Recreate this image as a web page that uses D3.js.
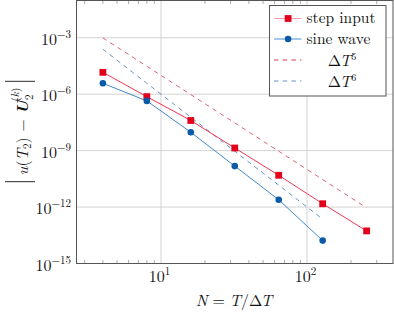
<!DOCTYPE html>
<html>
<head>
<meta charset="utf-8">
<script src="https://cdn.jsdelivr.net/npm/d3@7"></script>
</head>
<body style="margin:0;background:#fff">
<svg id="chart" width="394" height="315" font-family="Latin Modern Roman, serif" fill="#111"></svg>
<script>
// values
var steps = [4, 8, 16, 32, 64, 128, 256];
var stepErr = [1.45e-5, 7.4e-7, 4.0e-8, 1.38e-9, 4.9e-11, 1.5e-12, 5.4e-14];
var sineN = [4, 8, 16, 32, 64, 128];
var sineErr = [3.8e-6, 4.4e-7, 9.5e-9, 1.5e-10, 2.45e-12, 1.65e-14];
var ref5 = [9.8e-4, 3.05e-5, 9.5e-7, 2.98e-8, 9.3e-10, 2.9e-11, 9.1e-13];
var ref6 = [2.44e-4, 3.8e-6, 6.0e-8, 9.3e-10, 1.46e-11, 2.27e-13];
var yTicks = [1e-15, 1e-12, 1e-9, 1e-6, 1e-3];
var yTickExp = ["\u221215", "\u221212", "\u22129", "\u22126", "\u22123"];
var xTicks = [10, 100];
var xTickExp = ["1", "2"];
var legendNames = ["step input", "sine wave", "\u0394T", "\u0394T"];

var red = "#e2001a", blue = "#0a5aa8";
var redLine = "#ee2040", blueLine = "#2f7cc4";

var svg = d3.select("#chart");
var L = 76.5, R = 393, T = 0.5, B = 263.5;

var x = d3.scaleLog().domain([Math.pow(10, 0.4214), Math.pow(10, 2.5888)]).range([L, R]);
var y = d3.scaleLog().domain([1e-15, Math.pow(10, -1.02)]).range([B, T]);

// grid
svg.append("g").selectAll("line").data(xTicks).join("line")
  .attr("x1", d => x(d)).attr("x2", d => x(d)).attr("y1", T).attr("y2", B)
  .attr("stroke", "#c8c8c8").attr("stroke-width", 0.8);
svg.append("g").selectAll("line").data(yTicks).join("line")
  .attr("x1", L).attr("x2", R).attr("y1", d => y(d)).attr("y2", d => y(d))
  .attr("stroke", "#c8c8c8").attr("stroke-width", 0.8);

// minor x ticks
var minor = [];
for (var dec = 1; dec <= 100; dec *= 10)
  for (var m = 2; m <= 9; m++) {
    var v = m * dec;
    if (v > x.domain()[0] && v < x.domain()[1]) minor.push(v);
  }
var mt = svg.append("g");
minor.forEach(function(v) {
  mt.append("line").attr("x1", x(v)).attr("x2", x(v)).attr("y1", B).attr("y2", B - 3.5)
    .attr("stroke", "#888").attr("stroke-width", 0.7);
  mt.append("line").attr("x1", x(v)).attr("x2", x(v)).attr("y1", T).attr("y2", T + 3.5)
    .attr("stroke", "#888").attr("stroke-width", 0.7);
});

// reference lines
var line = d3.line().x(d => x(d[0])).y(d => y(d[1]));
var dash = "4.5,4.2";
svg.append("path").datum(d3.zip(steps, ref5)).attr("d", line)
  .attr("fill", "none").attr("stroke", "#d83a52").attr("stroke-width", 0.8).attr("stroke-dasharray", dash);
svg.append("path").datum(d3.zip(sineN, ref6)).attr("d", line)
  .attr("fill", "none").attr("stroke", "#3a78b8").attr("stroke-width", 0.8).attr("stroke-dasharray", dash);

// data series
svg.append("path").datum(d3.zip(steps, stepErr)).attr("d", line)
  .attr("fill", "none").attr("stroke", redLine).attr("stroke-width", 0.9);
svg.append("path").datum(d3.zip(sineN, sineErr)).attr("d", line)
  .attr("fill", "none").attr("stroke", blueLine).attr("stroke-width", 0.9);

svg.append("g").selectAll("rect").data(d3.zip(steps, stepErr)).join("rect")
  .attr("x", d => x(d[0]) - 3.4).attr("y", d => y(d[1]) - 3.4)
  .attr("width", 6.8).attr("height", 6.8).attr("fill", red);
svg.append("g").selectAll("circle").data(d3.zip(sineN, sineErr)).join("circle")
  .attr("cx", d => x(d[0])).attr("cy", d => y(d[1])).attr("r", 3.3).attr("fill", blue);

// frame
svg.append("rect").attr("x", L).attr("y", T).attr("width", R - L).attr("height", B - T)
  .attr("fill", "none").attr("stroke", "#555").attr("stroke-width", 1);

// y tick labels
var yl = svg.append("g");
yTicks.forEach(function(v, i) {
  var t = yl.append("text").attr("x", 71).attr("y", y(v) + 7).attr("text-anchor", "end")
    .attr("font-size", 16);
  t.append("tspan").text("10");
  t.append("tspan").attr("dy", -7).attr("font-size", 11).text(yTickExp[i]);
});
// x tick labels
xTicks.forEach(function(v, i) {
  var t = svg.append("text").attr("x", x(v) - 1.5).attr("y", 282).attr("text-anchor", "middle")
    .attr("font-size", 16);
  t.append("tspan").text("10");
  t.append("tspan").attr("dy", -7).attr("font-size", 11).text(xTickExp[i]);
});

// x label
var xl = svg.append("text").attr("x", 234).attr("y", 306).attr("text-anchor", "middle")
  .attr("font-size", 16);
xl.append("tspan").attr("font-style", "italic").text("N");
xl.append("tspan").attr("dx", 5).text("=");
xl.append("tspan").attr("dx", 4.5).attr("font-style", "italic").text("T");
xl.append("tspan").text("/\u0394");
xl.append("tspan").attr("dx", -1.5).attr("font-style", "italic").text("T");

// y label
var yg = svg.append("g").attr("transform", "translate(28,131.5) rotate(-90)");
var ylab = yg.append("text").attr("text-anchor", "middle").attr("font-size", 16);
ylab.append("tspan").attr("font-style", "italic").text("u");
ylab.append("tspan").text("(");
ylab.append("tspan").attr("font-style", "italic").text("T");
ylab.append("tspan").attr("dy", 3).attr("font-size", 11).text("2");
ylab.append("tspan").attr("dy", -3).text(") \u2212 ");
ylab.append("tspan").attr("font-style", "italic").attr("font-weight", "bold").text("U");
ylab.append("tspan").attr("dy", 5).attr("font-size", 11).text("2");
ylab.append("tspan").attr("dx", -7).attr("dy", -14).attr("font-size", 11).text("(");
ylab.append("tspan").attr("font-size", 11).attr("font-style", "italic").text("k");
ylab.append("tspan").attr("font-size", 11).text(")");
var half = ylab.node().getComputedTextLength() / 2 + 3;
[-half, half].forEach(function(p) {
  yg.append("line").attr("x1", p).attr("x2", p).attr("y1", -23).attr("y2", 7)
    .attr("stroke", "#111").attr("stroke-width", 0.9);
});

// legend
var lg = svg.append("g").attr("transform", "translate(269.5,5.5)");
lg.append("rect").attr("width", 116.5).attr("height", 90.5).attr("fill", "#fff")
  .attr("stroke", "#555").attr("stroke-width", 1);
var rowY = [13, 33.5, 54.5, 75.5];
var strokes = ["#f4a0aa", "#4a8ed0", "#d83a52", "#5a90c8"];
legendNames.forEach(function(n, i) {
  var row = lg.append("g").attr("transform", "translate(0," + rowY[i] + ")");
  var ln = row.append("line").attr("x1", 4.5).attr("x2", 32).attr("y1", 0).attr("y2", 0)
    .attr("stroke", strokes[i]).attr("stroke-width", 1);
  if (i >= 2) ln.attr("stroke-dasharray", dash);
  if (i === 0) row.append("rect").attr("x", 18.6 - 3.4).attr("y", -3.4).attr("width", 6.8).attr("height", 6.8).attr("fill", red);
  if (i === 1) row.append("circle").attr("cx", 18.6).attr("r", 3.3).attr("fill", blue);
  if (i < 2) {
    row.append("text").attr("x", 37).attr("y", 4.5).attr("font-size", 15.5).text(n);
  } else {
    var t = row.append("text").attr("x", 72.5).attr("y", 5.5).attr("text-anchor", "middle").attr("font-size", 16);
    t.append("tspan").text("\u0394");
    t.append("tspan").attr("dx", -1.5).attr("font-style", "italic").text("T");
    t.append("tspan").attr("dy", -6).attr("font-size", 10).text(i === 2 ? "5" : "6");
  }
});
</script>
</body>
</html>
